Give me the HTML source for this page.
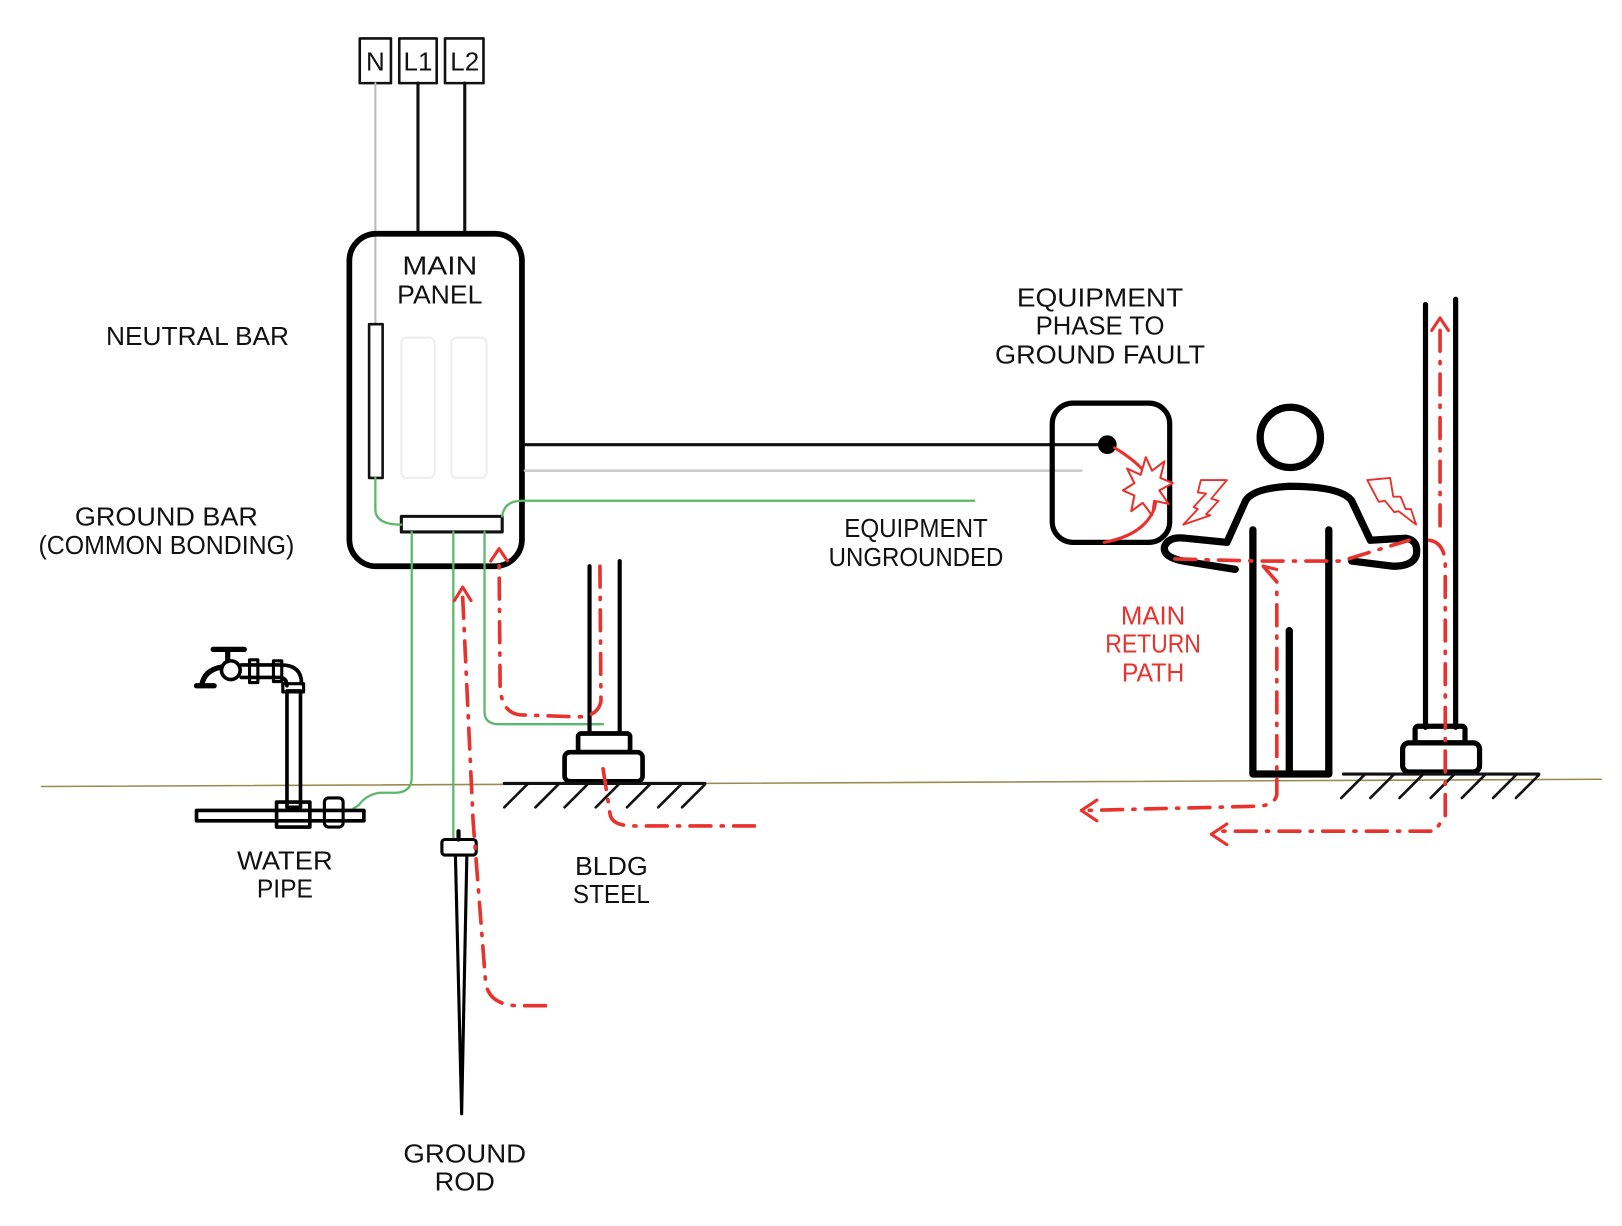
<!DOCTYPE html>
<html><head><meta charset="utf-8"><style>
html,body{margin:0;padding:0;background:#fff;width:1622px;height:1226px;overflow:hidden}
svg{display:block}
text{font-family:"Liberation Sans",sans-serif;font-size:25px;fill:#111;text-anchor:middle}
</style></head><body>
<svg width="1622" height="1226" viewBox="0 0 1560 1180" preserveAspectRatio="none" xmlns="http://www.w3.org/2000/svg">
<g fill="none" stroke-linecap="round" stroke-linejoin="round">
<path d="M40,757 L1540,750" stroke="#9a8a50" stroke-width="1.5"/>
<rect x="346" y="37" width="30" height="43" stroke="#111" stroke-width="2.5"/>
<rect x="384" y="37" width="36" height="43" stroke="#111" stroke-width="2.5"/>
<rect x="428" y="37" width="37" height="43" stroke="#111" stroke-width="2.5"/>
<path d="M361,80 V312" stroke="#bbb" stroke-width="2"/>
<path d="M402,80 V225 M447,80 V225" stroke="#111" stroke-width="3"/>
<rect x="336" y="225" width="166" height="320" rx="26" stroke="#000" stroke-width="5.5"/>
<rect x="355" y="312" width="13" height="148" stroke="#111" stroke-width="2.5"/>
<rect x="386" y="325" width="32" height="135" rx="5" stroke="#eee" stroke-width="2"/>
<rect x="434" y="325" width="34" height="135" rx="5" stroke="#eee" stroke-width="2"/>
<rect x="386" y="497" width="97" height="15" stroke="#111" stroke-width="3"/>
<path d="M505,428 H1065" stroke="#111" stroke-width="3"/>
<path d="M505,453 H1040" stroke="#ccc" stroke-width="2.5"/>
<g stroke="#5cb86a" stroke-width="2.2">
<path d="M361,460 V490 Q361,505 386,505"/>
<path d="M483,497 Q485,482 502,482 H937"/>
<path d="M396,512 V748 Q396,763 380,763 H365 Q352,765 345,775 L340,778"/>
<path d="M436,512 V808"/>
<path d="M466,512 V685 Q466,697 480,697 H580"/>
</g>
<rect x="1012" y="388" width="113" height="134" rx="20" stroke="#000" stroke-width="5"/>
<circle cx="1065" cy="428" r="9" fill="#000" stroke="none"/>
<path d="M1072,431 Q1120,460 1110,490 Q1100,515 1062,522" stroke="#e8322d" stroke-width="3"/>
<path d="M1102,440 L1108,453 L1120,444 L1116,460 L1128,465 L1115,472 L1124,485 L1110,482 L1108,496 L1099,484 L1088,492 L1091,477 L1080,472 L1091,465 L1084,451 L1097,457 Z" stroke="#e8322d" stroke-width="2" fill="#fff"/>
<circle cx="1241" cy="421" r="29" stroke="#000" stroke-width="7"/>
<path d="M1188,548 L1138,540 Q1118,536 1120,526 Q1124,516 1140,518 L1180,522 L1198,482 Q1205,470 1240,468 Q1290,468 1300,482 L1318,520 L1352,518 Q1365,520 1362,535 Q1358,545 1340,545 L1300,540" stroke="#000" stroke-width="7"/>
<path d="M1205,510 V745 H1278 V510 M1240,607 V745" stroke="#000" stroke-width="7"/>
<path d="M1155,462 L1180,462 L1165,480 L1172,482 L1160,495 L1164,496 L1138,505 L1152,490 L1148,488 L1160,475 L1152,474 Z" stroke="#e8322d" stroke-width="1.8"/>
<path d="M1315,462 L1337,460 L1340,478 L1347,478 L1352,490 L1357,490 L1362,505 L1345,492 L1341,493 L1332,482 L1326,483 Z" stroke="#e8322d" stroke-width="1.8"/>
<path d="M1371,293 V700 M1400,288 V700" stroke="#000" stroke-width="5"/>
<rect x="1361" y="699" width="48" height="16" rx="3" stroke="#000" stroke-width="5"/>
<rect x="1349" y="715" width="74" height="28" rx="6" stroke="#000" stroke-width="5"/>
<path d="M1292,745 H1480" stroke="#111" stroke-width="3"/>
<path d="M1312,746 L1290,768 M1340,746 L1318,768 M1368,746 L1346,768 M1398,746 L1376,768 M1428,746 L1406,768 M1458,746 L1436,768 M1480,746 L1458,768" stroke="#111" stroke-width="2.5"/>
<path d="M567,545 V705 M596,540 V705" stroke="#000" stroke-width="4"/>
<rect x="556" y="706" width="50" height="18" rx="3" stroke="#000" stroke-width="4.5"/>
<rect x="543" y="724" width="75" height="28" rx="5" stroke="#000" stroke-width="4.5"/>
<path d="M485,754 H678" stroke="#111" stroke-width="3"/>
<path d="M507,755 L485,777 M537,755 L515,777 M565,755 L543,777 M595,755 L573,777 M625,755 L603,777 M655,755 L633,777 M678,755 L656,777" stroke="#111" stroke-width="2.5"/>
<rect x="425" y="808" width="33" height="15" rx="3" stroke="#000" stroke-width="3"/>
<path d="M441,800 V808" stroke="#000" stroke-width="4"/>
<path d="M438,823 L444,1072 L449,823" stroke="#000" stroke-width="3"/>
<rect x="189" y="780" width="161" height="10" stroke="#000" stroke-width="3.5"/>
<rect x="276" y="665" width="13" height="112" stroke="#000" stroke-width="3.5"/>
<rect x="272" y="658" width="20" height="8" stroke="#000" stroke-width="3"/>
<rect x="266" y="772" width="32" height="24" stroke="#000" stroke-width="3.5"/>
<rect x="312" y="768" width="18" height="28" rx="4" stroke="#000" stroke-width="3"/>
<path d="M232,640 H270 Q290,640 290,658 M232,652 H268 Q276,652 276,660" stroke="#000" stroke-width="3.5"/>
<rect x="240" y="635" width="8" height="22" stroke="#000" stroke-width="3"/>
<rect x="263" y="636" width="8" height="20" stroke="#000" stroke-width="3"/>
<circle cx="222" cy="645" r="9" stroke="#000" stroke-width="3.5"/>
<path d="M205,625 H235 M219,625 V636" stroke="#000" stroke-width="5"/>
<path d="M213,642 Q196,645 194,660" stroke="#000" stroke-width="5"/>
<path d="M189,660 H206" stroke="#000" stroke-width="5"/>
<g stroke="#e8322d" stroke-width="3.5" stroke-dasharray="20,10,2,10">
<path d="M445,575 L455,790 L467,945 Q470,968 500,968 H530"/>
<path d="M577,545 L578,675 Q575,690 555,690 L500,688 Q482,686 481,660 L480,540"/>
<path d="M580,740 L587,785 Q590,795 610,795 H730"/>
<path d="M1130,538 L1210,540 H1290 L1355,520"/>
<path d="M1215,545 L1228,560 V765 Q1226,775 1210,776 L1045,780"/>
<path d="M1385,318 V510 M1375,520 Q1388,522 1390,540 V785 L1380,800 H1170"/>
</g>
<g stroke="#e8322d" stroke-width="3">
<path d="M437,578 L445,565 L453,578"/>
<path d="M472,540 L480,528 L488,540"/>
<path d="M1377,318 L1385,306 L1393,318"/>
<path d="M1055,770 L1040,780 L1055,790"/>
<path d="M1180,793 L1165,803 L1180,813"/>
<path d="M1215,545 L1228,548"/>
</g>
</g>
<text x="361" y="68" font-size="27">N</text>
<text x="402" y="68" font-size="27">L1</text>
<text x="447" y="68" font-size="27">L2</text>
<text x="423" y="264" textLength="72" lengthAdjust="spacingAndGlyphs">MAIN</text>
<text x="423" y="292" textLength="82" lengthAdjust="spacingAndGlyphs">PANEL</text>
<text x="190" y="332" textLength="176" lengthAdjust="spacingAndGlyphs">NEUTRAL BAR</text>
<text x="160" y="506" textLength="176" lengthAdjust="spacingAndGlyphs">GROUND BAR</text>
<text x="160" y="533" font-size="22" textLength="246" lengthAdjust="spacingAndGlyphs">(COMMON BONDING)</text>
<text x="1058" y="295" textLength="160" lengthAdjust="spacingAndGlyphs">EQUIPMENT</text>
<text x="1058" y="322" textLength="124" lengthAdjust="spacingAndGlyphs">PHASE TO</text>
<text x="1058" y="350" textLength="202" lengthAdjust="spacingAndGlyphs">GROUND FAULT</text>
<text x="881" y="517" font-size="23" textLength="138" lengthAdjust="spacingAndGlyphs">EQUIPMENT</text>
<text x="881" y="545" font-size="23" textLength="168" lengthAdjust="spacingAndGlyphs">UNGROUNDED</text>
<text x="1109" y="601" font-size="23" style="fill:#e8322d" textLength="62" lengthAdjust="spacingAndGlyphs">MAIN</text>
<text x="1109" y="628" font-size="23" style="fill:#e8322d" textLength="92" lengthAdjust="spacingAndGlyphs">RETURN</text>
<text x="1109" y="656" font-size="23" style="fill:#e8322d" textLength="60" lengthAdjust="spacingAndGlyphs">PATH</text>
<text x="274" y="837" textLength="92" lengthAdjust="spacingAndGlyphs">WATER</text>
<text x="274" y="864" textLength="54" lengthAdjust="spacingAndGlyphs">PIPE</text>
<text x="588" y="842" textLength="70" lengthAdjust="spacingAndGlyphs">BLDG</text>
<text x="588" y="869" textLength="74" lengthAdjust="spacingAndGlyphs">STEEL</text>
<text x="447" y="1119" textLength="118" lengthAdjust="spacingAndGlyphs">GROUND</text>
<text x="447" y="1146" textLength="58" lengthAdjust="spacingAndGlyphs">ROD</text>
</svg>
</body></html>
